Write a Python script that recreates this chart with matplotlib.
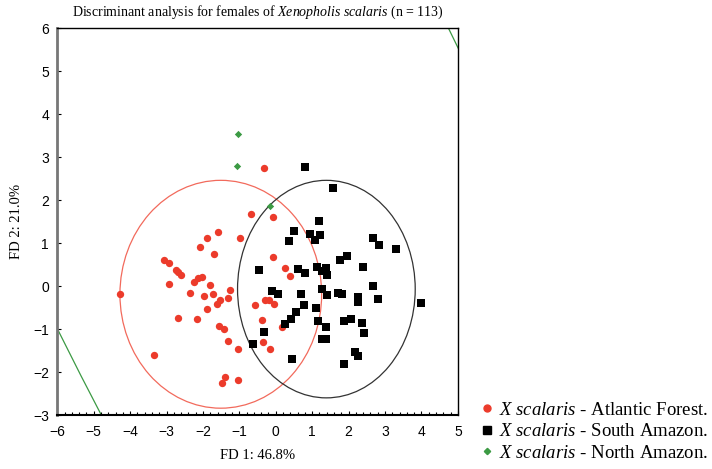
import matplotlib
matplotlib.use("Agg")
import matplotlib.pyplot as plt
from matplotlib.patches import Ellipse
from matplotlib.lines import Line2D
import numpy as np

plt.rcParams['mathtext.fontset'] = 'custom'
plt.rcParams['mathtext.rm'] = 'Liberation Serif'
plt.rcParams['mathtext.it'] = 'Liberation Serif:italic'

# scores FD1 / FD2 por grupo
af_x = [-0.68, -1.60, -1.88, -0.98, -2.09, -1.70, -3.08, -2.93, -2.74, -2.60, -2.68,
        -2.02, -2.13, -2.93, -2.24, -1.81, -4.28, -2.35, -1.97, -1.72, -1.27, -1.30,
        -1.53, -1.62, -0.58, -1.90, -2.68, -2.17, -1.55, -1.42, -1.30, -1.03, -3.34,
        -1.39, -1.48, -1.03, -0.31, -0.07, -0.07, 0.26, 0.40, -0.29, -0.18, -0.05,
        -0.38, 0.16, -0.34, -0.16]
af_y = [1.67, 1.25, 1.12, 1.12, 0.91, 0.74, 0.60, 0.53, 0.37, 0.26, 0.33,
        0.22, 0.19, 0.06, 0.10, 0.03, -0.19, -0.17, -0.22, -0.19, -0.10, -0.27,
        -0.33, -0.41, -0.43, -0.53, -0.74, -0.77, -0.92, -1.00, -1.27, -1.46, -1.60,
        -2.11, -2.26, -2.19, 2.75, 1.60, 0.67, 0.43, 0.23, -0.33, -0.33, -0.41,
        -0.79, -0.94, -1.29, -1.47]

sa_x = [0.80, 1.58, 1.20, 0.49, 0.36, 0.94, 1.22, 1.09, 2.66, 2.84, 3.30, 1.95,
        1.77, 2.39, -0.46, 0.62, 0.80, 1.13, 1.38, 1.26, 1.40, 2.68, 1.27, 1.40,
        2.80, 1.72, 1.81, 2.25, 2.27, -0.11, 0.07, 0.69, 3.98, 0.77, 1.11, 0.56,
        0.43, 0.26, 1.16, 1.88, 2.06, 2.36, 1.37, -0.32, 2.43, 1.26, 1.37, -0.63,
        2.18, 2.27, 0.44, 1.88]
sa_y = [2.77, 2.28, 1.51, 1.29, 1.05, 1.21, 1.19, 1.07, 1.12, 0.95, 0.87, 0.70,
        0.60, 0.44, 0.37, 0.40, 0.31, 0.44, 0.42, 0.36, 0.26, 0.00, -0.06, -0.21,
        -0.30, -0.15, -0.19, -0.25, -0.37, -0.12, -0.19, -0.19, -0.40, -0.45, -0.50, -0.61,
        -0.77, -0.88, -0.81, -0.81, -0.77, -0.85, -0.95, -1.06, -1.09, -1.23, -1.23, -1.35,
        -1.53, -1.62, -1.70, -1.82]

na_x = [-1.05, -1.06, -0.16]
na_y = [3.53, 2.80, 1.87]

# elipses (centro, largura, altura, angulo)
ell_af = (-1.51, -0.19, 5.54, 5.30, 0)
ell_sa = (1.39, -0.07, 4.88, 5.06, 0)
ell_na = (-0.76, 2.73, 50.6, 12.8, -60)

labels = [r"$\it{X\ scalaris}$ - Atlantic Forest.",
          r"$\it{X\ scalaris}$ - South Amazon.",
          r"$\it{X\ scalaris}$ - North Amazon."]

red = '#ec3b2b'
green = '#3c9a44'

fig = plt.figure(figsize=(7.12, 4.69), dpi=100)
ax = fig.add_axes([0.0805, 0.115, 0.5625, 0.825])

ax.scatter(af_x, af_y, s=28, marker='o', color=red, linewidths=0, zorder=3)
ax.scatter(sa_x, sa_y, s=34, marker='s', color='black', linewidths=0, zorder=3)
ax.scatter(na_x, na_y, s=14, marker='D', color=green, linewidths=0, zorder=3)

for (cx, cy, w, h, ang), col in zip([ell_af, ell_sa, ell_na], ['#f26a5c', '#333333', green]):
    ax.add_patch(Ellipse((cx, cy), w, h, angle=ang, fill=False, edgecolor=col, lw=0.9))

ax.set_xlim(-6, 5)
ax.set_ylim(-3, 6)
ax.set_xticks(np.arange(-6, 6, 1))
ax.set_yticks(np.arange(-3, 7, 1))
ax.set_xticks(np.arange(-6, 5.01, 0.2), minor=True)
ax.tick_params(which='both', direction='in', labelsize=10, width=0.8)
ax.tick_params(which='major', length=3)
ax.tick_params(which='minor', length=2)
ax.tick_params(axis='y', which='minor', left=False)
for lab in ax.get_xticklabels() + ax.get_yticklabels():
    lab.set_fontfamily('Liberation Sans')
ax.tick_params(axis='x', pad=7)
ax.tick_params(axis='y', pad=6)

ax.spines['left'].set_color('#777777')
ax.spines['left'].set_linewidth(2)
ax.spines['bottom'].set_linewidth(1.5)
ax.spines['top'].set_linewidth(1)
ax.spines['right'].set_linewidth(1)

ax.set_title(r"Discriminant analysis for females of $\it{Xenopholis\ scalaris}$ (n = 113)",
             fontfamily='Liberation Serif', fontsize=10, pad=9)
ax.set_xlabel("FD 1: 46.8%", fontfamily='Liberation Serif', fontsize=10.5, labelpad=7)
ax.set_ylabel("FD 2: 21.0%", fontfamily='Liberation Serif', fontsize=10.5, labelpad=7)

handles = [Line2D([], [], marker='o', color=red, ls='', markersize=5),
           Line2D([], [], marker='s', color='black', ls='', markersize=5.5),
           Line2D([], [], marker='D', color=green, ls='', markersize=3.2)]
fig.legend(handles, labels, loc='lower left', bbox_to_anchor=(0.66, 0.0),
           frameon=False, prop={'family': 'Liberation Serif', 'size': 13.5},
           handletextpad=0.15, labelspacing=0.22, handlelength=1.0, borderaxespad=0)

fig.savefig('out.png', dpi=100)
